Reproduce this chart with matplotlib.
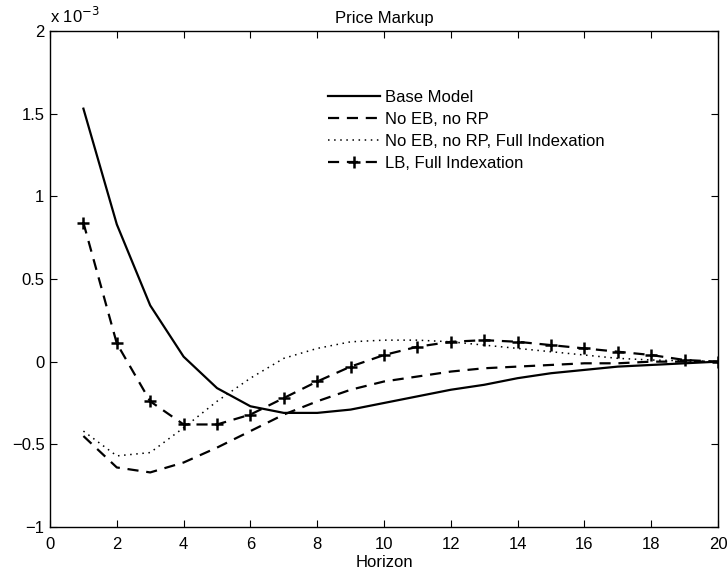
import matplotlib
matplotlib.use('Agg')
import matplotlib.pyplot as plt
from matplotlib.ticker import FuncFormatter, MultipleLocator

plt.rcParams['font.family'] = ['Liberation Sans', 'DejaVu Sans']

horizon = list(range(1, 21))

# values, in units of 1e-3
base_model = [1.53, 0.83, 0.34, 0.03, -0.16, -0.27, -0.31, -0.31, -0.29, -0.25,
              -0.21, -0.17, -0.14, -0.10, -0.07, -0.05, -0.03, -0.02, -0.01, 0.0]
no_eb_rp = [-0.45, -0.64, -0.67, -0.61, -0.52, -0.42, -0.32, -0.24, -0.17, -0.12,
            -0.09, -0.06, -0.04, -0.03, -0.02, -0.01, -0.01, 0.0, 0.0, 0.0]
no_eb_rp_full = [-0.42, -0.57, -0.55, -0.40, -0.24, -0.10, 0.02, 0.08, 0.12, 0.13,
                 0.13, 0.12, 0.10, 0.08, 0.06, 0.04, 0.02, 0.01, 0.005, 0.0]
lb_full = [0.84, 0.11, -0.24, -0.38, -0.38, -0.32, -0.22, -0.12, -0.03, 0.04,
           0.09, 0.12, 0.13, 0.12, 0.10, 0.08, 0.06, 0.04, 0.01, 0.0]

labels = ['Base Model', 'No EB, no RP', 'No EB, no RP, Full Indexation', 'LB, Full Indexation']

scale = 1e-3
fig = plt.figure(figsize=(7.28, 5.73), dpi=100)
ax = fig.add_axes([0.0687, 0.0803, 0.9176, 0.8657])

ax.plot(horizon, [v * scale for v in base_model], color='black', lw=1.6, label=labels[0])
ax.plot(horizon, [v * scale for v in no_eb_rp], color='black', lw=1.6,
        linestyle=(0, (5, 3.5)), label=labels[1])
ax.plot(horizon, [v * scale for v in no_eb_rp_full], color='black', lw=1.1,
        linestyle=(0, (1, 3)), label=labels[2])
ax.plot(horizon, [v * scale for v in lb_full], color='black', lw=1.6,
        linestyle=(0, (5, 3.5)), marker='+', ms=9, mew=1.8, label=labels[3])

ax.set_xlim(0, 20)
ax.set_ylim(-1e-3, 2e-3)
ax.xaxis.set_major_locator(MultipleLocator(2))
ax.yaxis.set_major_locator(MultipleLocator(0.5e-3))
ax.yaxis.set_major_formatter(FuncFormatter(lambda v, p: ('%g' % round(v / scale, 3)).replace('-', '\u2212')))
ax.tick_params(direction='in', top=True, right=True, labelsize=12, length=5, width=0.8, pad=4)
ax.tick_params(axis='x', pad=7)
for s in ax.spines.values():
    s.set_linewidth(1.0)

ax.set_title('Price Markup', fontsize=12, pad=6)
ax.set_xlabel('Horizon', fontsize=12, labelpad=2.5)
ax.text(0.0, 1.01, r'x 10$^{-3}$', transform=ax.transAxes, fontsize=12, va='bottom', ha='left')

ax.legend(loc='upper left', bbox_to_anchor=(0.406, 0.8946), frameon=False, fontsize=12,
          handlelength=3.1, handletextpad=0.3, labelspacing=0.42, borderaxespad=0)

fig.savefig('out.png', dpi=100)
